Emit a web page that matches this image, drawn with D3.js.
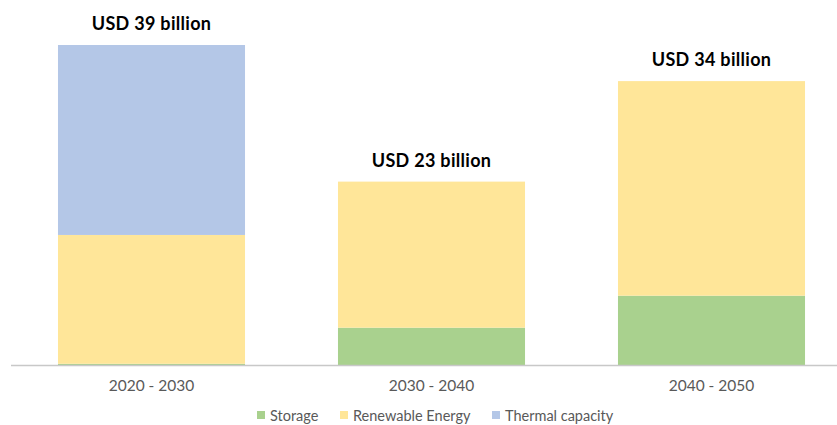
<!DOCTYPE html>
<html>
<head>
<meta charset="utf-8">
<script src="https://cdn.jsdelivr.net/npm/d3@7"></script>
<style>
  body { margin: 0; background: #fff; }
  svg { display: block; font-family: Lato, 'Open Sans', sans-serif; }
</style>
</head>
<body>
<div id="chart"></div>
<script>
const WIDTH = 837
const HEIGHT = 425
const periods = ['2020 - 2030', '2030 - 2040', '2040 - 2050']
const seriesNames = ['Storage', 'Renewable Energy', 'Thermal capacity']
const storage = [0.15, 4.55, 8.45]
const renewable = [15.7, 17.8, 26.15]
const thermal = [23.15, 0, 0]
const totalLabels = ['USD 39 billion', 'USD 23 billion', 'USD 34 billion']
const COLORS = ['#a9d18e', '#ffe699', '#b4c7e7']

const svg = d3.select('#chart').append('svg')
  .attr('width', WIDTH).attr('height', HEIGHT)

const rows = periods.map((p, i) => ({
  period: p, Storage: storage[i], 'Renewable Energy': renewable[i], 'Thermal capacity': thermal[i]
}))
const stacked = d3.stack().keys(seriesNames)(rows)

const x = d3.scaleBand().domain(periods).range([11.5, 851.5]).paddingInner(0.332).paddingOuter(0.166)
const y = d3.scaleLinear().domain([0, 39]).range([365, 45])

// bars
svg.selectAll('.series').data(stacked).enter().append('g')
  .attr('class', 'series')
  .attr('fill', (d, i) => COLORS[i])
  .selectAll('rect').data(d => d).enter().append('rect')
  .attr('x', d => x(d.data.period))
  .attr('width', x.bandwidth())
  .attr('y', d => y(d[1]))
  .attr('height', d => y(d[0]) - y(d[1]))

// axis line
svg.append('line')
  .attr('x1', 11).attr('x2', WIDTH).attr('y1', 365.5).attr('y2', 365.5)
  .attr('stroke', '#c8c8c8').attr('stroke-width', 1.3)

// category labels
const axis = d3.axisBottom(x).tickSize(0).tickPadding(0)
const axisG = svg.append('g').attr('transform', 'translate(0, 391)').call(axis)
axisG.select('.domain').remove()
axisG.selectAll('.tick text')
  .attr('y', 0).attr('dy', 0)
  .attr('fill', '#595959').attr('font-size', '15.5px')
  .attr('font-family', 'Lato, "Open Sans", sans-serif')

// total labels
const totals = stacked[stacked.length - 1]
svg.selectAll('.total').data(totals).enter().append('text')
  .attr('class', 'total')
  .attr('x', d => x(d.data.period) + x.bandwidth() / 2)
  .attr('y', d => y(d[1]) - 15)
  .attr('text-anchor', 'middle')
  .attr('font-weight', 'bold')
  .attr('font-size', '18px')
  .attr('letter-spacing', '0.3px')
  .attr('fill', '#000')
  .text((d, i) => totalLabels[i])

// legend
const legendX = [257, 340, 492]
const legend = svg.selectAll('.legend').data(seriesNames).enter().append('g')
  .attr('class', 'legend')
  .attr('transform', (d, i) => `translate(${legendX[i]}, 411)`)
legend.append('rect').attr('width', 8).attr('height', 8).attr('fill', (d, i) => COLORS[i])
legend.append('text').attr('x', 13).attr('y', 9.5)
  .attr('fill', '#595959').attr('font-size', '14.5px')
  .text(d => d)
</script>
</body>
</html>
